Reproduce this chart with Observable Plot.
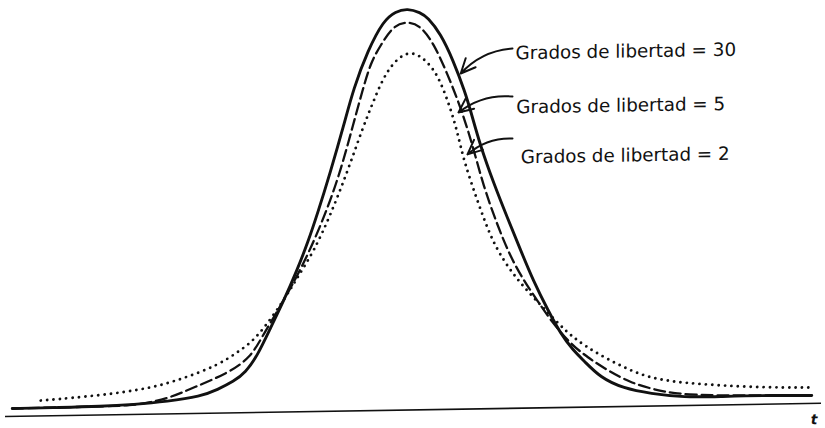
<!DOCTYPE html>
<html>
<head>
<meta charset="utf-8">
<script src="https://cdn.jsdelivr.net/npm/d3@7"></script>
<script src="https://cdn.jsdelivr.net/npm/@observablehq/plot@0.6"></script>
<style>
  html, body { margin: 0; padding: 0; background: #fff; }
  #chart { width: 825px; height: 428px; overflow: hidden; }
  #chart svg { overflow: visible; transform: skewY(-0.93deg); transform-origin: 814px 420px; }
</style>
</head>
<body>
<div id="chart"></div>
<script>
// t value and density for each curve
const tDf30 = [-5.27,-4.63,-4.09,-3.65,-3.2,-2.76,-2.53,-2.32,-2.16,-2.0,-1.83,-1.65,-1.47,-1.33,-1.2,-1.03,-0.85,-0.72,-0.53,-0.32,-0.16,0,0.17,0.27,0.44,0.61,0.77,0.84,0.97,1.15,1.33,1.51,1.68,1.87,2.04,2.21,2.35,2.57,2.88,3.24,3.69,4.17,4.71,5.39];
const dDf30 = [0.0,0.0002,0.0006,0.002,0.0045,0.009,0.0158,0.0235,0.0324,0.0493,0.0763,0.104,0.135,0.162,0.191,0.2322,0.2793,0.3164,0.3543,0.3843,0.3932,0.396,0.3918,0.3866,0.3702,0.3429,0.3105,0.2924,0.2569,0.2185,0.1841,0.1506,0.1195,0.0905,0.0665,0.0492,0.0389,0.0215,0.0102,0.0046,0.0002,0.0005,0.0009,0.0];

const tDf5 = [-5.27,-4.09,-3.69,-3.43,-3.16,-2.85,-2.4,-2.09,-1.93,-1.65,-1.36,-1.09,-0.89,-0.72,-0.6,-0.49,-0.36,-0.19,0,0.17,0.35,0.53,0.71,0.87,1.01,1.2,1.37,1.55,1.73,1.93,2.17,2.4,2.67,2.97,3.24,3.47,3.73,4.17,4.71,5.39];
const dDf5 = [0.0,0.0006,0.0011,0.0038,0.0085,0.0182,0.0317,0.0474,0.0693,0.1042,0.1441,0.191,0.2341,0.2812,0.3142,0.3423,0.3592,0.3791,0.3829,0.3787,0.3604,0.3299,0.2955,0.257,0.2166,0.1762,0.1448,0.1204,0.1001,0.0777,0.0562,0.042,0.0285,0.0161,0.0097,0.0054,0.003,0.0015,0.0009,0.0];

const tDf2 = [-4.89,-4.09,-3.43,-2.99,-2.53,-2.23,-2.0,-1.65,-1.47,-1.25,-1.03,-0.8,-0.6,-0.45,-0.27,0,0.21,0.4,0.57,0.67,0.75,0.93,1.11,1.28,1.47,1.68,1.91,2.13,2.27,2.48,2.8,3.11,3.41,3.77,4.61,5.39];
const dDf2 = [0.0075,0.0117,0.0179,0.0274,0.0399,0.0546,0.0674,0.1042,0.127,0.153,0.189,0.233,0.276,0.304,0.336,0.3547,0.3464,0.3301,0.2957,0.2694,0.2421,0.2016,0.1642,0.1408,0.121,0.103,0.0845,0.0675,0.059,0.048,0.0345,0.0235,0.0178,0.0140,0.0091,0.008];

// Annotation labels and arrows (text start, arrow start, arrow tip)
const labels = ["Grados de libertad = 30", "Grados de libertad = 5", "Grados de libertad = 2"];
const labelT = [1.44, 1.45, 1.51];
const labelD = [0.349, 0.2946, 0.2443];
const arrowFromT = [1.40, 1.40, 1.40];
const arrowFromD = [0.354, 0.3057, 0.2635];
const arrowToT = [0.71, 0.68, 0.80];
const arrowToD = [0.3297, 0.2905, 0.2482];

const axisLevel = -0.008;
const axisLabel = "t";
const axisLabelT = 5.42;
const axisLabelD = -0.0245;

const rows = (ts, ds) => ts.map((t, i) => ({t, d: ds[i]}));
const df30 = rows(tDf30, dDf30);
const df5 = rows(tDf5, dDf5);
const df2 = rows(tDf2, dDf2);
const labelRows = labels.map((s, i) => ({s, t: labelT[i], d: labelD[i]}));
const arrowRows = labels.map((s, i) => ({x1: arrowFromT[i], y1: arrowFromD[i], x2: arrowToT[i], y2: arrowToD[i]}));

const chart = Plot.plot({
  width: 825,
  height: 428,
  marginLeft: 5,
  marginRight: 4,
  marginTop: 0,
  marginBottom: 20,
  x: {domain: [-5.36, 5.52], axis: null},
  y: {domain: [-0.0131, 0.39736], axis: null},
  style: {background: "white", fontFamily: "DejaVu Sans"},
  marks: [
    Plot.ruleY([axisLevel], {stroke: "#111", strokeWidth: 1.6}),
    Plot.line(df2, {x: "t", y: "d", stroke: "#111", strokeWidth: 2.9, strokeDasharray: "0 6.4", strokeLinecap: "round", curve: "basis"}),
    Plot.line(df5, {x: "t", y: "d", stroke: "#111", strokeWidth: 2.3, strokeDasharray: "11 5", curve: "basis"}),
    Plot.line(df30, {x: "t", y: "d", stroke: "#111", strokeWidth: 2.9, curve: "basis"}),
    Plot.arrow(arrowRows, {x1: "x1", y1: "y1", x2: "x2", y2: "y2", bend: -22, stroke: "#111", strokeWidth: 2, headLength: 12, headAngle: 50}),
    Plot.text(labelRows, {x: "t", y: "d", text: "s", textAnchor: "start", lineAnchor: "middle", fontSize: 18.3, fill: "#111", fontFamily: "DejaVu Sans"}),
    Plot.text([axisLabel], {x: () => axisLabelT, y: () => axisLabelD, text: d => d, fontSize: 14, fontStyle: "italic", fontWeight: "bold", fill: "#111", fontFamily: "DejaVu Sans"})
  ]
});
document.getElementById("chart").appendChild(chart);
</script>
</body>
</html>
